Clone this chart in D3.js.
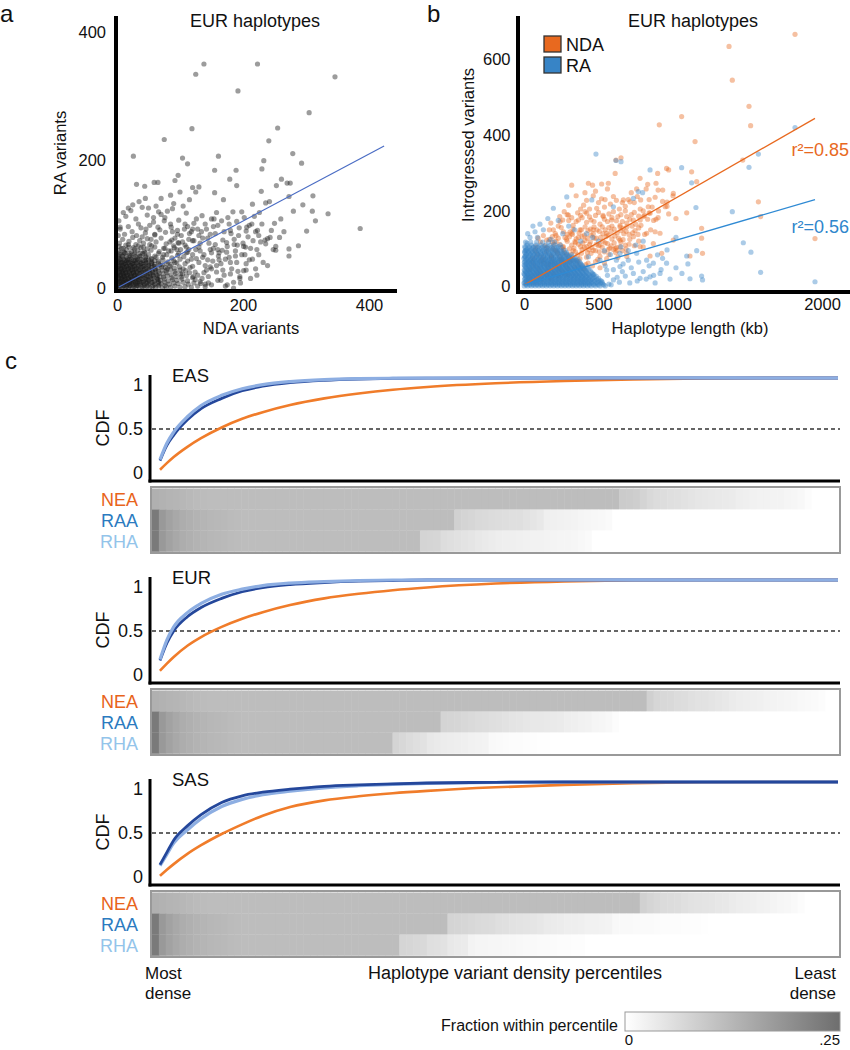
<!DOCTYPE html>
<html><head><meta charset="utf-8">
<script src="https://cdn.jsdelivr.net/npm/d3@7"></script>
<style>body{margin:0;background:#fff}svg{display:block}</style>
</head><body><svg id="c" width="850" height="1050"></svg>
<script>
// ---------------- DATA ----------------
// Panel a: NDA variants (x) vs RA variants (y), EUR haplotypes
const aXTicks = [0, 200, 400];
const aYTicks = [0, 200, 400];
const aPoints = [
[1,1],[3,0],[5,2],[8,1],[10,3],[13,0],[15,2],[18,1],[21,3],[24,0],[27,2],[30,1],[33,4],[36,0],[40,2],[44,1],[48,3],[52,0],[56,2],[61,1],[66,3],[72,0],[78,2],[85,1],[92,3],[100,1],[108,2],[118,1],[128,3],[140,2],
[2,7],[4,9],[7,6],[9,8],[12,7],[14,9],[17,6],[20,8],[23,7],[26,9],[29,6],[32,8],[35,7],[39,9],[43,6],[47,8],[51,7],[55,9],[60,6],[65,8],[70,7],[76,9],[83,6],[90,8],[97,7],[105,9],[113,6],[122,8],[133,7],
[1,12],[3,14],[6,11],[8,13],[11,12],[13,14],[16,11],[19,13],[22,12],[25,14],[28,11],[31,13],[34,12],[38,14],[42,11],[46,13],[50,12],[54,14],[59,11],[64,13],[69,12],[75,14],[81,11],[88,13],[95,12],[103,14],[112,11],[124,13],
[2,17],[5,19],[7,16],[10,18],[12,17],[15,19],[18,16],[21,18],[24,17],[27,19],[30,16],[33,18],[37,17],[41,19],[45,16],[49,18],[53,17],[58,19],[63,16],[68,18],[74,17],[80,19],[87,16],[94,18],[102,17],[110,19],[120,16],
[1,22],[4,24],[6,21],[9,23],[11,22],[14,24],[17,21],[20,23],[23,22],[26,24],[29,21],[32,23],[36,22],[40,24],[44,21],[48,23],[52,22],[57,24],[62,21],[67,23],[73,22],[79,24],[86,21],[93,23],[101,22],[115,24],
[2,27],[5,29],[8,26],[10,28],[13,27],[16,29],[19,26],[22,28],[25,27],[28,29],[31,26],[35,28],[39,27],[43,29],[47,26],[51,28],[56,27],[61,29],[66,26],[72,28],[78,27],[85,29],[92,26],[100,28],[109,27],
[1,32],[3,34],[6,31],[9,33],[12,32],[15,34],[18,31],[21,33],[24,32],[27,34],[31,31],[34,33],[38,32],[42,34],[46,31],[50,33],[55,32],[60,34],[65,31],[71,33],[77,32],[84,34],[91,31],[99,33],
[2,37],[5,39],[8,36],[11,38],[14,37],[17,39],[20,36],[24,38],[27,37],[30,39],[34,36],[38,38],[42,37],[46,39],[50,36],[55,38],[60,37],[66,39],[72,36],[79,38],[86,37],[95,39],
[3,42],[6,44],[9,41],[12,43],[15,42],[19,44],[22,41],[26,43],[29,42],[33,44],[37,41],[41,43],[45,42],[50,44],[55,41],[60,43],[66,42],[73,44],[81,41],[90,43],
[2,47],[5,52],[9,49],[13,54],[16,46],[20,51],[24,48],[28,53],[32,47],[36,50],[41,54],[45,48],[50,52],[55,46],[60,50],[66,54],[72,48],[79,52],[87,47],[96,51],[106,49],
[3,58],[7,62],[11,56],[15,60],[19,64],[23,57],[28,61],[33,59],[38,63],[43,57],[48,61],[54,59],[60,64],[67,57],[74,62],[82,58],[91,63],[101,60],[112,56],
[4,70],[9,76],[14,67],[19,73],[25,79],[30,68],[36,74],[42,70],[48,77],[55,66],[62,72],[70,78],[78,69],[87,75],[97,71],[108,67],[120,74],
[5,92],[12,84],[18,96],[24,88],[31,82],[38,94],[45,86],[52,98],[60,83],[68,91],[77,87],[86,95],[96,84],[107,92],[118,88],[130,82],
[3,105],[14,112],[22,121],[30,108],[40,126],[48,114],[58,103],[66,119],[76,110],[88,124],[98,106],[110,117],[122,101],[135,113],[150,108],
[2,4],[6,5],[11,4],[16,5],[20,4],[25,5],[31,4],[37,5],[43,4],[50,5],[58,4],[67,5],[76,4],
[1,10],[5,10],[10,9],[15,10],[19,9],[24,10],[30,9],[36,10],[42,9],[49,10],[57,9],[66,10],
[3,15],[8,15],[13,14],[18,15],[23,14],[29,15],[35,14],[41,15],[48,14],[56,15],[65,14],
[1,20],[6,20],[11,19],[16,20],[22,19],[28,20],[34,19],[41,20],[48,19],[56,20],[64,19],
[4,25],[9,25],[14,24],[20,25],[26,24],[32,25],[38,24],[45,25],[53,24],[61,25],
[2,30],[7,30],[12,29],[18,30],[24,29],[30,30],[37,29],[44,30],[52,29],[60,30],
[5,35],[10,35],[16,34],[22,35],[28,34],[35,35],[42,34],[50,35],[58,34],
[1,40],[7,40],[13,39],[19,40],[25,39],[32,40],[39,39],[47,40],[55,39],
[4,45],[10,45],[17,44],[23,45],[30,44],[38,45],[46,44],[54,45],
[2,50],[8,50],[15,49],[22,50],[30,49],[38,50],[46,49],
[5,55],[12,55],[20,54],[28,55],[36,54],[44,55],
[3,65],[10,62],[18,68],[26,63],[34,66],[42,64],[52,68],
[62,48],[68,36],[74,52],[80,30],[86,58],[92,40],[98,54],[104,22],[108,38],[114,60],[120,34],[126,46],[132,58],[138,24],[144,44],[150,30],[156,68],[162,44],[168,28],[174,56],[180,40],[186,68],[192,26],[198,52],[204,64],[210,44],[216,74],[222,20],[76,62],[84,72],[90,66],[96,90],[102,82],[108,100],[114,76],[120,92],[130,64],[136,78],[142,92],[148,84],[154,108],[160,98],[170,88],[178,100],[186,76],[194,94],[202,110],[214,100],[226,118],[60,84],[54,76],[46,92],[40,80],[34,100],
[150,5],[160,12],[172,3],[185,9],[145,18],[158,25],[170,20],[182,30],[195,15],[140,35],[152,42],[165,38],[178,48],[190,40],[205,28],[215,45],[138,52],[148,60],[162,55],[175,65],[188,58],[200,70],[212,62],[225,52],[132,70],[144,78],[156,85],[168,75],[180,90],[193,82],[206,95],[220,88],[235,75],[128,92],[140,100],[153,96],[166,105],[115,85],[125,60],[118,45],[130,40],[124,25],[135,15],[116,32],[104,72],[110,55],[95,60],[100,45],[92,78],[85,100],[75,105],[65,95],[70,115],[58,110],[50,125],[62,128],[80,120],[90,132],[105,128],[115,138],[125,150],[100,150],[85,145],[70,140],[45,140],[35,135],[25,130],[18,125],[10,118],[5,95],[2,82],
[105,30],[112,42],[120,52],[128,20],[136,48],[142,28],[150,55],[158,35],[165,12],[172,45],[180,22],[188,50],[196,8],[205,38],[212,15],[220,30],[145,8],[160,60],[175,5],[110,64],[98,70],[122,74],[134,88],[146,70],[88,88],[112,96],[126,108],[158,118],[176,110],[190,104],[208,80],[218,112],[230,100],[245,90],[260,108],[280,120],[295,130],[265,88],[248,60],[232,40],[222,60],
[138,350],[223,350],[125,334],[346,330],[192,308],[305,274],[119,249],[255,250],[75,232],[241,230],[26,206],[279,210],[104,203],[112,194],[161,206],[233,199],[293,195],[189,184],[155,184],[230,186],[97,176],[92,168],[261,170],[270,164],[275,164],[253,160],[179,170],[190,160],[120,157],[130,158],[44,159],[59,165],[65,165],[31,162],[155,149],[169,138],[229,151],[242,135],[236,133],[273,143],[311,144],[310,120],[315,105],[335,116],[386,93],[301,89],[288,66],[273,61],[273,50],[252,65],[252,59],[258,79],[250,101],[239,77],[243,79],[236,69],[223,90],[225,82],[228,72],[239,35],[205,89],[210,98],[184,119],[198,119],[215,131],[185,0],[195,18],[201,27],[203,52],[201,65],[191,67],[181,85],[174,71],[167,59],[161,50],[153,62],[148,33],[140,6],[132,10],[121,18]
];
const aFit = [[3,1.5],[424,222]];

// Panel b: haplotype length (kb) vs introgressed variants
const bXTicks = [0, 500, 1000, 2000];
const bYTicks = [0, 200, 400, 600];
const bSeries = ["NDA", "RA"];
const ndaPoints = [
[20,12],[45,18],[70,15],[95,25],[120,20],[150,30],[175,22],[200,35],[230,28],[260,38],[290,32],[60,30],[110,35],[160,40],[30,25],[85,38],
[40,45],[70,55],[100,48],[130,62],[160,50],[190,66],[220,55],[250,68],[280,58],[310,65],[340,52],[370,60],[400,48],[430,62],[460,55],[55,65],[115,68],[175,58],[235,45],[295,48],[355,68],[415,58],[480,66],[510,50],[540,62],
[60,75],[90,85],[120,78],[150,92],[180,82],[210,96],[240,80],[270,90],[300,76],[330,95],[360,84],[390,98],[420,78],[450,88],[480,95],[510,80],[540,92],[570,85],[600,98],[630,78],[75,95],[135,72],[195,100],[255,73],[315,86],[375,74],[435,98],[495,72],[555,74],[615,90],[660,95],[690,80],
[80,105],[110,118],[140,108],[170,125],[200,112],[230,128],[260,104],[290,120],[320,110],[350,126],[380,106],[410,122],[440,112],[470,128],[500,108],[530,120],[560,114],[590,126],[620,104],[650,118],[680,110],[710,125],[95,128],[155,102],[215,120],[275,130],[335,102],[395,115],[455,104],[515,130],[575,102],[635,128],[740,108],[770,120],[800,105],
[130,135],[170,150],[210,140],[250,156],[290,138],[330,152],[370,142],[410,158],[450,136],[490,150],[530,140],[570,156],[610,134],[650,148],[690,158],[730,142],[770,155],[810,138],[850,150],[190,132],[310,145],[430,148],[550,132],[670,140],[590,160],[230,160],[390,132],[470,158],[880,145],
[180,168],[240,185],[300,175],[360,195],[420,170],[480,188],[540,178],[600,198],[660,172],[720,190],[780,176],[840,195],[900,182],[270,198],[390,182],[510,165],[630,185],[750,165],[870,175],[330,162],[450,176],[570,192],[690,168],[810,188],
[300,215],[350,240],[420,228],[480,252],[540,210],[600,238],[660,222],[720,248],[780,205],[840,230],[900,255],[960,212],[1000,240],[560,258],[640,205],[700,230],[820,258],[930,225],[380,205],[460,268],[520,232],
[160,60],[185,75],[205,62],[225,88],[245,72],[265,98],[285,84],[305,100],[325,70],[345,92],[365,112],[385,88],[405,104],[425,90],[445,118],[465,96],[485,112],[505,92],[525,104],[545,116],[565,98],[585,108],[605,116],[625,96],[645,106],[665,124],[685,100],[705,112],
[190,118],[215,135],[240,112],[265,145],[285,125],[305,132],[325,138],[345,116],[365,130],[385,150],[405,136],[425,128],[445,152],[465,140],[485,128],[505,146],[525,158],[545,150],[565,136],[585,146],[605,152],[625,142],[645,162],[665,154],[685,146],[705,138],[725,160],[745,148],[765,138],[785,162],
[260,176],[290,190],[320,182],[350,172],[380,188],[410,198],[440,184],[470,172],[500,196],[530,188],[560,172],[590,182],[620,174],[650,190],[680,200],[710,178],[740,196],[770,186],[800,200],[830,178],
[400,215],[440,205],[500,222],[580,218],[620,228],[680,212],[740,222],[760,238],[860,210],[880,236],
[1819,666],[1376,634],[1398,545],[1510,476],[1521,425],[1058,449],[908,427],[1148,383],[1468,334],[1573,224],[1588,185],[1953,127],[1192,154],[1192,128],[1198,88],[1114,81],[1092,195],[651,340],[617,334],[957,312],[971,308],[897,299],[1125,303],[1159,277],[779,286],[756,258],[830,270],[886,273],[931,255],[1002,246],[960,223],[948,211],[971,192],[1020,180],[886,178],[903,200],[846,194],[612,299],[320,268],[432,273],[521,271],[566,273],[409,248],[465,240],[544,230],[667,229],[711,224],[783,229],[834,211],[801,185],[734,176],[689,185],[644,158],[588,176],[532,185],[488,207],[421,194],[365,176],[298,189],[242,172],[197,150],[152,123],[320,141],[376,150],[465,150],[555,141],[644,123],[734,132],[823,141],[868,114],[779,106],[689,88],[612,101],[510,110],[421,106],[342,119],[264,106],[220,92],[186,79],[913,141],[924,88],[846,81],[1002,123]
];
const raPoints = [
[483,350],[617,333],[651,330],[846,308],[1058,314],[1819,420],[1573,350],[1510,315],[1125,274],[1154,209],[1398,198],[767,251],[796,248],[734,233],[600,211],[455,229],[287,237],[197,207],[107,165],[74,145],[1472,116],[1523,91],[1588,38],[1953,13],[1192,28],[1198,18],[1114,21],[1159,95],[1092,81],[1020,130],[960,97],[896,84],[868,62],[957,62],[846,26],[779,22],[913,35],[700,70],[644,53],[734,35],[600,18],[555,44],[510,70],[644,88],[756,88],[823,70],[432,79],[465,31],[376,49],
[520,15],[560,30],[600,45],[640,12],[680,28],[720,50],[760,15],[800,40],[840,55],[880,10],[920,45],[700,95],[750,110],[800,120],[650,105],[580,85],[620,70],[540,95],[500,120],[460,130],[420,140],[380,120],[340,150],[300,160],[260,140],[230,175],[160,180],[130,150],[60,160],[40,130],[20,115],[10,95],[5,80],[25,140],[90,130],[180,125],[980,20],[1020,50],[1060,35],[1100,60],[870,30],[930,75],[660,40],[710,10],[770,65],[820,20],[545,55],[585,5],[625,25],[665,60]
];
// dense RA core, rows of [variants, [lengths...]]
const raDenseRows = [
[2,[2,25,50,75,100,125,150,175,200,225,250,275,300,325,350,375,400,425,450,480,510,545]],
[4.5,[14,38,63,88,113,138,163,188,213,238,263,288,313,338,363,388,413,440,470,500,535]],
[7,[12,37,62,87,112,137,162,187,212,237,262,287,312,337,362,387,412,437,465,495,530,570]],
[9.5,[0,24,49,74,99,124,149,174,199,224,249,274,299,324,349,374,399,424,450,482,515]],
[12,[5,30,55,80,105,130,155,180,205,230,255,280,305,330,355,380,405,430,455,490,525]],
[14.5,[12,36,61,86,111,136,161,186,211,236,261,286,311,336,361,386,411,438,468,500]],
[17,[18,43,68,93,118,143,168,193,218,243,268,293,318,343,368,393,418,445,475,510]],
[19.5,[4,29,54,79,104,129,154,179,204,229,254,279,304,329,354,379,404,430,458,490]],
[22,[8,33,58,83,108,133,158,183,208,233,258,283,308,333,358,383,408,435,465,500]],
[24.5,[14,39,64,89,114,139,164,189,214,239,264,289,314,339,364,389,415,442,475]],
[27,[20,45,70,95,120,145,170,195,220,245,270,295,320,345,370,395,420,450,485]],
[29.5,[8,33,58,83,108,133,158,183,208,233,258,283,308,333,358,384,410,440]],
[32,[3,28,53,78,103,128,153,178,203,228,253,278,303,328,353,378,405,435,470]],
[34.5,[0,22,47,72,97,122,147,172,197,222,247,272,297,322,347,372,398,428,460]],
[37,[15,40,65,90,115,140,165,190,215,240,265,290,315,340,365,392,420,455]],
[39.5,[10,35,60,85,110,135,160,185,210,235,260,285,310,335,360,388,418]],
[42,[6,31,56,81,106,131,156,181,206,231,256,281,306,331,358,385,415,445]],
[44.5,[2,27,52,77,102,127,152,177,202,227,252,277,302,327,352,380,410]],
[47,[20,45,70,95,120,145,170,195,220,245,270,295,320,348,375,405,435]],
[49.5,[14,39,64,89,114,139,164,189,214,239,264,289,314,340,368,398]],
[52,[10,35,60,85,110,135,160,185,210,235,260,285,310,338,365,395,425]],
[54.5,[5,30,55,80,105,130,155,180,205,230,255,280,306,334,362,392]],
[57,[2,27,52,77,102,127,152,177,202,227,252,277,302,330,360,390]],
[59.5,[14,39,64,89,114,139,164,189,214,239,264,290,320,350,380]],
[62,[15,40,65,90,115,140,165,190,215,240,265,290,318,348,378]],
[64.5,[3,28,53,78,103,128,153,178,203,228,253,278,303,330,358]],
[67,[6,31,56,81,106,131,156,181,206,231,256,284,312,342,370]],
[69.5,[12,37,62,87,112,137,162,187,212,237,262,290,320,350]],
[72,[20,45,70,95,120,145,170,195,220,248,276,305,335,362]],
[75,[0,22,47,72,97,122,147,172,198,226,254,282,312,342]],
[78,[8,33,58,83,108,133,158,185,212,240,268,298,328]],
[81,[8,33,58,83,108,133,158,185,214,244,274,304]],
[84,[18,43,68,93,118,145,172,200,230,260,290,320]],
[87,[14,39,64,89,114,140,168,196,226,256,286]],
[90,[5,30,55,82,110,138,166,195,225,255,285]],
[93,[4,28,54,80,108,136,164,194,224,254]],
[96,[15,40,68,96,125,155,185,215,245,275]],
[99,[20,48,76,104,134,164,194,226]],
[103,[8,35,62,92,122,152,185,218,250]],
[106,[5,35,65,96,128,160,195,230]],
[110,[20,50,80,112,145,178,210,245]],
[118,[10,45,85,125,165,205]]
];
const ndaFit = [[0,4.5],[1953,444]];
const raFit = [[0,5],[1953,230]];
const r2Labels = ["r\u00b2=0.85", "r\u00b2=0.56"];

// Panel c: CDFs over haplotype variant density percentiles
const pops = ["EAS", "EUR", "SAS"];
const groups = ["NEA", "RAA", "RHA"];
const cdfPct = [1,2,3,5,7,10,13,16,20,25,30,35,40,50,60,70,80,90,100];
const cdfTicks = [0, 0.5, 1];
const easNEAcdf = [0.10,0.165,0.225,0.325,0.41,0.515,0.60,0.665,0.735,0.80,0.848,0.885,0.912,0.948,0.97,0.985,0.995,1,1];
const easRAAcdf = [0.19,0.34,0.44,0.59,0.70,0.80,0.875,0.92,0.955,0.978,0.99,0.996,0.999,1,1,1,1,1,1];
const easRHAcdf = [0.20,0.36,0.47,0.62,0.73,0.83,0.895,0.935,0.965,0.985,0.994,0.998,1,1,1,1,1,1,1];
const eurNEAcdf = [0.11,0.18,0.245,0.355,0.44,0.54,0.62,0.685,0.755,0.82,0.865,0.90,0.927,0.965,0.987,0.997,1,1,1];
const eurRAAcdf = [0.21,0.38,0.50,0.64,0.73,0.82,0.885,0.925,0.955,0.975,0.988,0.995,1,1,1,1,1,1,1];
const eurRHAcdf = [0.22,0.41,0.54,0.68,0.77,0.86,0.91,0.945,0.97,0.985,0.995,1,1,1,1,1,1,1,1];
const sasNEAcdf = [0.08,0.14,0.195,0.295,0.38,0.49,0.585,0.67,0.755,0.82,0.86,0.89,0.913,0.948,0.972,0.988,0.997,1,1];
const sasRAAcdf = [0.19,0.31,0.43,0.57,0.68,0.80,0.865,0.90,0.93,0.958,0.972,0.982,0.99,0.997,1,1,1,1,1];
const sasRHAcdf = [0.18,0.29,0.40,0.53,0.64,0.76,0.83,0.875,0.91,0.943,0.963,0.977,0.986,0.995,1,1,1,1,1];

// heatmap: fraction within each of 100 percentiles ([v,n] = v repeated n times)
const easNEAheat = [0.136,0.133,0.13,0.127,0.124,0.121,0.118,0.116,[0.114,60],0.09,0.088,0.085,0.075,0.065,0.06,0.058,0.056,0.054,0.05,0.046,0.043,0.041,0.04,0.038,0.036,0.034,0.03,0.027,0.025,0.023,0.022,0.021,0.02,0.018,0.015,0.012,0.006,[0,4]];
const easRAAheat = [0.229,0.176,0.16,0.15,0.142,0.136,0.131,0.128,0.125,0.122,0.12,0.118,0.116,[0.114,31],0.08,0.075,0.07,0.066,0.063,0.06,0.058,0.057,0.056,0.055,0.05,0.045,0.04,0.028,0.026,0.024,0.022,0.02,0.018,0.016,0.014,0.012,0.008,[0,33]];
const easRHAheat = [0.229,0.176,0.16,0.15,0.142,0.136,0.131,0.128,0.125,0.122,0.12,0.118,0.116,[0.114,26],0.075,0.072,0.07,0.058,0.055,0.052,0.048,0.044,0.04,0.036,0.032,0.029,0.028,0.027,0.026,0.025,0.023,0.022,0.02,0.019,0.018,0.017,0.015,0.012,0.008,[0,36]];
const eurNEAheat = [0.136,0.133,0.13,0.127,0.124,0.121,0.118,0.116,[0.114,64],0.081,0.07,0.067,0.065,0.06,0.058,0.053,0.05,0.05,0.047,0.043,0.04,0.035,0.031,0.029,0.028,0.026,0.022,0.02,0.019,0.018,0.016,0.012,0.01,0.008,0.005,[0,2]];
const eurRAAheat = [0.229,0.176,0.16,0.15,0.142,0.136,0.131,0.128,0.125,0.122,0.12,0.118,0.116,[0.114,29],0.075,0.072,0.07,0.068,0.063,0.06,0.058,0.055,0.053,0.05,0.047,0.044,0.042,0.04,0.039,0.038,0.036,0.034,0.03,0.027,0.025,0.023,0.018,0.015,0.012,0.005,[0,32]];
const eurRHAheat = [0.229,0.176,0.16,0.15,0.142,0.136,0.131,0.128,0.125,0.122,0.12,0.118,0.116,[0.114,22],0.075,0.067,0.06,0.055,0.05,0.04,0.036,0.033,0.031,0.029,0.027,0.025,0.023,0.021,0.01,0.008,0.007,0.006,0.005,0.004,0.003,0.002,0.001,[0,42]];
const sasNEAheat = [0.136,0.133,0.13,0.127,0.124,0.121,0.118,0.116,[0.114,63],0.08,0.072,0.067,0.062,0.06,0.058,0.054,0.05,0.048,0.046,0.044,0.042,0.04,0.035,0.031,0.029,0.027,0.025,0.022,0.019,0.016,0.013,0.01,0.006,[0,5]];
const sasRAAheat = [0.229,0.176,0.16,0.15,0.142,0.136,0.131,0.128,0.125,0.122,0.12,0.118,0.116,[0.114,30],0.075,0.072,0.07,0.067,0.064,0.062,0.06,0.055,0.053,0.05,0.048,0.046,0.044,0.042,0.036,0.034,0.032,0.03,0.029,0.027,0.025,0.024,0.022,0.02,0.012,0.011,0.01,0.009,0.008,0.008,0.007,0.006,0.006,0.005,0.004,0.004,0.003,0.002,[0,19]];
const sasRHAheat = [0.229,0.176,0.16,0.15,0.142,0.136,0.131,0.128,0.125,0.122,0.12,0.118,0.116,[0.114,23],0.072,0.07,0.068,0.066,0.055,0.053,0.05,0.04,0.037,0.034,0.02,0.018,0.017,0.016,0.015,0.014,0.013,0.012,0.011,0.01,0.009,0.008,0.007,0.006,0.005,0.004,0.003,[0,37]];
const heatDomain = [0, 0.25];
const heatTickLabels = ["0", ".25"];

// ---------------- DRAWING ----------------
const FONT = '"Liberation Sans", Arial, Helvetica, sans-serif';
const ORANGE = "#e8691f", BLUE = "#3784c6";
const svg = d3.select("#c").attr("font-family", FONT);
const txt = (x, y, s, size, opts = {}) => {
  const t = svg.append("text").attr("x", x).attr("y", y).text(s)
    .attr("font-size", size).attr("fill", opts.fill || "#111")
    .attr("text-anchor", opts.anchor || "start");
  if (opts.rotate) t.attr("transform", `rotate(-90,${x},${y})`);
  return t;
};
const thick = (x1, y1, x2, y2, w) => svg.append("line").attr("x1", x1).attr("y1", y1)
  .attr("x2", x2).attr("y2", y2).attr("stroke", "#000").attr("stroke-width", w);
const styleAxis = (g, size) => { g.select(".domain").remove(); g.attr("font-family", FONT).attr("font-size", size); g.selectAll("text").attr("fill", "#111"); };

// ---- Panel a ----
const ax = d3.scaleLinear().domain([0, 400]).range([117, 369]);
const ay = d3.scaleLinear().domain([0, 400]).range([288, 32]);
svg.append("g").selectAll("circle").data(aPoints).join("circle")
  .attr("cx", d => ax(d[0])).attr("cy", d => ay(d[1])).attr("r", 2.6)
  .attr("fill", "#1a1a1a").attr("fill-opacity", 0.43);
svg.append("path").datum(aFit).attr("d", d3.line().x(d => ax(d[0])).y(d => ay(d[1])))
  .attr("stroke", "#4a6cc4").attr("stroke-width", 1.2).attr("fill", "none");
thick(ax(0) - 1, 16, ax(0) - 1, 293, 4);
thick(ax(0) - 3, 291, 397, 291, 4);
svg.append("g").attr("transform", `translate(${ax(0)},0)`)
  .call(d3.axisLeft(ay).tickValues(aYTicks).tickSize(0).tickPadding(11).tickFormat(d3.format("d"))).call(g => styleAxis(g, 16.5));
svg.append("g").attr("transform", "translate(0,291)")
  .call(d3.axisBottom(ax).tickValues(aXTicks).tickSize(0).tickPadding(8).tickFormat(d3.format("d"))).call(g => styleAxis(g, 16.5));
txt(0, 22, "a", 24);
txt(255, 27, "EUR haplotypes", 18, { anchor: "middle" });
txt(66, 153, "RA variants", 16.5, { anchor: "middle", rotate: true });
txt(251, 334, "NDA variants", 16.5, { anchor: "middle" });

// ---- Panel b ----
const bx = d3.scaleLinear().domain([0, 2000]).range([524, 822]);
const by = d3.scaleLinear().domain([0, 600]).range([286.7, 59.3]);
const raAll = raPoints.concat(raDenseRows.flatMap(([v, xs]) => xs.map(x => [x, v])));
svg.append("g").selectAll("circle").data(ndaPoints).join("circle")
  .attr("cx", d => bx(d[0])).attr("cy", d => by(d[1])).attr("r", 2.6)
  .attr("fill", ORANGE).attr("fill-opacity", 0.42);
svg.append("g").selectAll("circle").data(raAll).join("circle")
  .attr("cx", d => bx(d[0])).attr("cy", d => by(d[1])).attr("r", 2.6)
  .attr("fill", BLUE).attr("fill-opacity", 0.42);
const bline = d3.line().x(d => bx(d[0])).y(d => by(d[1]));
svg.append("path").datum(ndaFit).attr("d", bline).attr("stroke", ORANGE).attr("stroke-width", 1.3).attr("fill", "none");
svg.append("path").datum(raFit).attr("d", bline).attr("stroke", "#2f8ad4").attr("stroke-width", 1.3).attr("fill", "none");
thick(518, 16, 518, 294, 4);
thick(516, 292, 850, 292, 4);
svg.append("g").attr("transform", "translate(518,0)")
  .call(d3.axisLeft(by).tickValues(bYTicks).tickSize(0).tickPadding(7.5).tickFormat(d3.format("d"))).call(g => styleAxis(g, 16.5));
svg.append("g").attr("transform", "translate(0,292)")
  .call(d3.axisBottom(bx).tickValues(bXTicks).tickSize(0).tickPadding(6).tickFormat(d3.format("d"))).call(g => styleAxis(g, 16.5));
txt(427, 22, "b", 24);
txt(693, 27, "EUR haplotypes", 18, { anchor: "middle" });
txt(474, 145, "Introgressed variants", 16.5, { anchor: "middle", rotate: true });
txt(690, 334, "Haplotype length (kb)", 16.5, { anchor: "middle" });
const legColors = [ORANGE, BLUE];
bSeries.forEach((s, i) => {
  svg.append("rect").attr("x", 544).attr("y", 36 + i * 21).attr("width", 17).attr("height", 16)
    .attr("fill", legColors[i]).attr("stroke", "#333").attr("stroke-width", 1.3);
  txt(566, 51 + i * 21, s, 18);
});
txt(849, 156, r2Labels[0], 18, { anchor: "end", fill: ORANGE });
txt(849, 233, r2Labels[1], 18, { anchor: "end", fill: "#2f86cc" });

// ---- Panel c ----
const expand = arr => arr.flatMap(v => Array.isArray(v) ? Array(v[1]).fill(v[0]) : [v]).slice(0, 100);
const cdfData = { EAS: [easNEAcdf, easRAAcdf, easRHAcdf], EUR: [eurNEAcdf, eurRAAcdf, eurRHAcdf], SAS: [sasNEAcdf, sasRAAcdf, sasRHAcdf] };
const heatData = { EAS: [easNEAheat, easRAAheat, easRHAheat], EUR: [eurNEAheat, eurRAAheat, eurRHAheat], SAS: [sasNEAheat, sasRAAheat, sasRHAheat] };
const bases = [481, 683, 885];
const lineOrder = { EAS: [0, 1, 2], EUR: [0, 1, 2], SAS: [0, 2, 1] };
const lineColor = ["#f07c2a", "#24479b", "#8daee2"];
const lineWidth = [2.6, 2.8, 3.2];
const labelColor = ["#e8641b", "#2b7bc0", "#93c4ea"];
const cxs = d3.scaleLinear().domain([1, 100]).range([160, 838]);
const hx = d3.scaleBand().domain(d3.range(1, 101)).range([152, 839]);
const heatColor = d3.scaleLinear().domain(heatDomain).range(["#ffffff", "#6e6e6e"]).clamp(true);

txt(5, 369, "c", 24);
pops.forEach((pop, i) => {
  const base = bases[i];
  const cy = d3.scaleLinear().domain([0, 1]).range([base - 1, base - 103]);
  const g = svg.append("g");
  g.append("line").attr("x1", 152).attr("x2", 840).attr("y1", cy(0.5)).attr("y2", cy(0.5))
    .attr("stroke", "#333").attr("stroke-width", 1.3).attr("stroke-dasharray", "4,3");
  const line = d3.line().x((d, k) => cxs(cdfPct[k])).y(d => cy(d)).curve(d3.curveMonotoneX);
  lineOrder[pop].forEach(j => {
    g.append("path").datum(cdfData[pop][j]).attr("d", line).attr("fill", "none")
      .attr("stroke", lineColor[j]).attr("stroke-width", lineWidth[j]);
  });
  thick(150, base - 106, 150, base + 1.5, 3);
  thick(148.5, base, 840, base, 3);
  svg.append("g").attr("transform", "translate(150,0)")
    .call(d3.axisLeft(cy).tickValues(cdfTicks).tickSize(0).tickPadding(7).tickFormat(d => d === 0.5 ? "0.5" : String(d)))
    .call(gg => { styleAxis(gg, 18); gg.selectAll(".tick text").attr("transform", d => `translate(0,${d === 1 ? 7 : d === 0 ? -7 : 0})`); });
  txt(172, base - 99, pop, 18.5);
  txt(109, base - 53, "CDF", 18, { anchor: "middle", rotate: true });
  const top = base + 6;
  const hy = d3.scaleBand().domain(groups).range([top + 1.5, top + 64.5]);
  groups.forEach((grp, j) => {
    const vals = expand(heatData[pop][j]).map((v, k) => ({ p: k + 1, v }));
    g.append("g").selectAll("rect").data(vals).join("rect")
      .attr("x", d => hx(d.p)).attr("y", hy(grp)).attr("width", hx.bandwidth() + 0.5).attr("height", hy.bandwidth() + 0.3)
      .attr("fill", d => heatColor(d.v));
    txt(138, hy(grp) + hy.bandwidth() / 2 + 6.5, grp, 18, { anchor: "end", fill: labelColor[j] });
  });
  g.append("rect").attr("x", 151).attr("y", top).attr("width", 689).attr("height", 66)
    .attr("fill", "none").attr("stroke", "#999").attr("stroke-width", 2);
});

// bottom labels
txt(145, 979, "Most", 17);
txt(145, 999, "dense", 17);
txt(836, 979, "Least", 17, { anchor: "end" });
txt(836, 999, "dense", 17, { anchor: "end" });
txt(515, 979, "Haplotype variant density percentiles", 18, { anchor: "middle" });

// colour bar
const cb = d3.scaleLinear().domain(heatDomain).range([625, 840]);
const grad = svg.append("defs").append("linearGradient").attr("id", "hg");
heatDomain.forEach(v => grad.append("stop").attr("offset", (v - heatDomain[0]) / (heatDomain[1] - heatDomain[0])).attr("stop-color", heatColor(v)));
svg.append("rect").attr("x", cb(0)).attr("y", 1012).attr("width", cb(0.25) - cb(0)).attr("height", 19)
  .attr("fill", "url(#hg)").attr("stroke", "#999").attr("stroke-width", 1);
txt(618, 1031, "Fraction within percentile", 16, { anchor: "end" });
txt(cb(0) + 4, 1045, heatTickLabels[0], 15, { anchor: "middle" });
txt(cb(0.25), 1045, heatTickLabels[1], 15, { anchor: "end" });
</script></body></html>
